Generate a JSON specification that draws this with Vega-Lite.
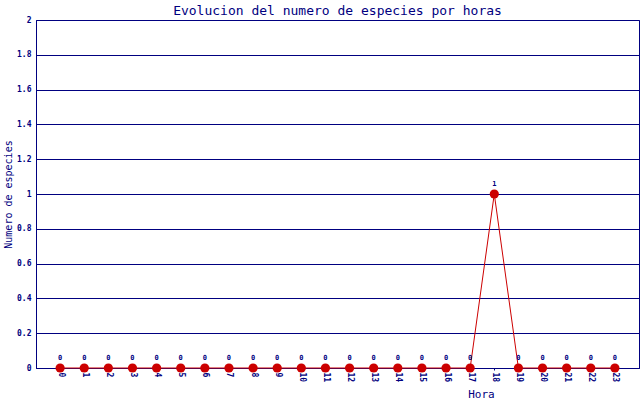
{
  "$schema": "https://vega.github.io/schema/vega-lite/v6.json",
  "width": 603,
  "height": 348,
  "autosize": "none",
  "padding": {"left": 36, "top": 20, "right": 1, "bottom": 32},
  "background": "white",
  "config": {
    "view": {"stroke": "#000080", "strokeWidth": 1},
    "font": "DejaVu Sans Mono"
  },
  "title": {
    "text": "Evolucion del numero de especies por horas",
    "font": "DejaVu Sans Mono",
    "fontSize": 13,
    "fontWeight": "normal",
    "color": "#000080",
    "offset": -2
  },
  "data": {
    "values": [
      {"hora": 0, "especies": 0},
      {"hora": 1, "especies": 0},
      {"hora": 2, "especies": 0},
      {"hora": 3, "especies": 0},
      {"hora": 4, "especies": 0},
      {"hora": 5, "especies": 0},
      {"hora": 6, "especies": 0},
      {"hora": 7, "especies": 0},
      {"hora": 8, "especies": 0},
      {"hora": 9, "especies": 0},
      {"hora": 10, "especies": 0},
      {"hora": 11, "especies": 0},
      {"hora": 12, "especies": 0},
      {"hora": 13, "especies": 0},
      {"hora": 14, "especies": 0},
      {"hora": 15, "especies": 0},
      {"hora": 16, "especies": 0},
      {"hora": 17, "especies": 0},
      {"hora": 18, "especies": 1},
      {"hora": 19, "especies": 0},
      {"hora": 20, "especies": 0},
      {"hora": 21, "especies": 0},
      {"hora": 22, "especies": 0},
      {"hora": 23, "especies": 0}
    ]
  },
  "encoding": {
    "x": {
      "field": "hora",
      "type": "quantitative",
      "scale": {"domain": [-1, 24], "nice": false, "zero": false},
      "axis": {
        "title": "Hora",
        "values": [0,1,2,3,4,5,6,7,8,9,10,11,12,13,14,15,16,17,18,19,20,21,22,23],
        "format": "d",
        "grid": false,
        "domainColor": "#000080",
        "tickColor": "#000080",
        "tickSize": 2,
        "labelAngle": 90,
        "labelAlign": "left",
        "labelBaseline": "middle",
        "labelPadding": 2,
        "labelFont": "DejaVu Sans Mono",
        "labelFontSize": 8,
        "labelFontWeight": "bold",
        "labelColor": "#000080",
        "titleFont": "DejaVu Sans Mono",
        "titleFontSize": 11,
        "titleFontWeight": "normal",
        "titleColor": "#000080",
        "titleX": 445,
        "titleY": 26,
        "titleBaseline": "middle"
      }
    },
    "y": {
      "field": "especies",
      "type": "quantitative",
      "scale": {"domain": [0, 2], "nice": false},
      "axis": {
        "title": "Numero de especies",
        "values": [0, 0.2, 0.4, 0.6, 0.8, 1, 1.2, 1.4, 1.6, 1.8, 2],
        "format": "~g",
        "gridColor": "#000080",
        "gridOpacity": 1,
        "domainColor": "#000080",
        "ticks": false,
        "labelPadding": 5,
        "labelFont": "DejaVu Sans Mono",
        "labelFontSize": 8,
        "labelFontWeight": "bold",
        "labelColor": "#000080",
        "titleFont": "DejaVu Sans Mono",
        "titleFontSize": 10,
        "titleFontWeight": "normal",
        "titleColor": "#000080",
        "titleX": -28,
        "titleY": 174,
        "titleBaseline": "middle"
      }
    }
  },
  "layer": [
    {"mark": {"type": "line", "color": "#cc0000", "strokeWidth": 1}},
    {"mark": {"type": "point", "filled": true, "shape": "circle", "size": 85, "color": "#cc0000", "opacity": 1}},
    {
      "mark": {"type": "text", "dy": -10, "font": "DejaVu Sans Mono", "fontSize": 7, "fontWeight": "bold", "color": "#000080"},
      "encoding": {"text": {"field": "especies", "type": "quantitative"}}
    }
  ]
}
